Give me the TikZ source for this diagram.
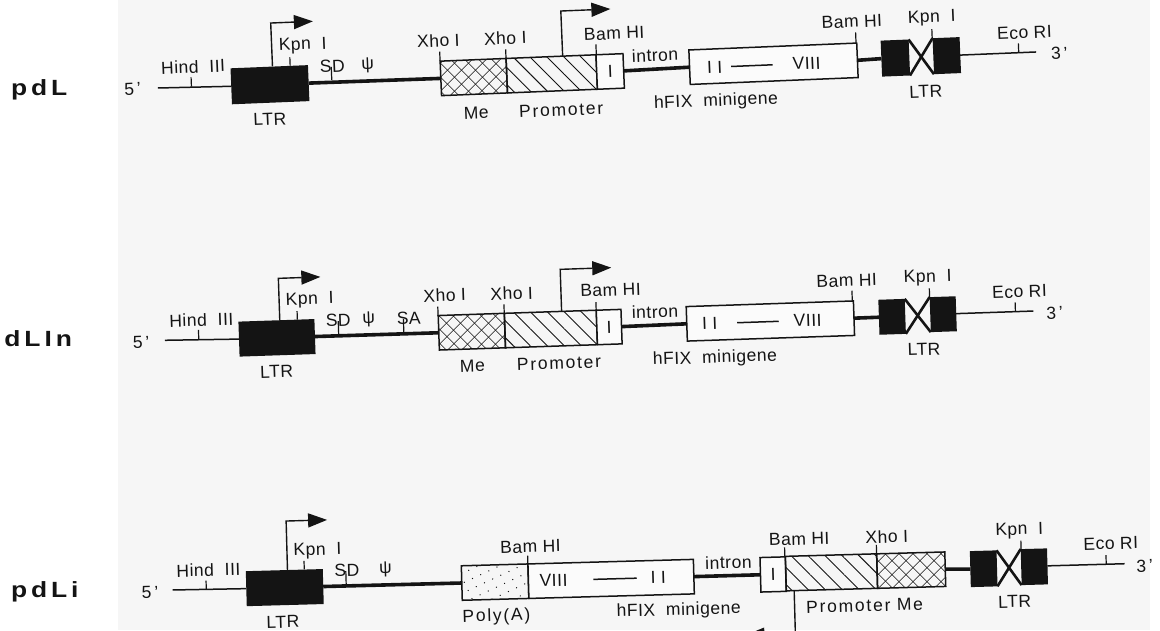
\documentclass[tikz,border=0pt]{standalone}
\usepackage{fontspec}
\setmainfont[LetterSpace=3]{Liberation Sans}
\newfontfamily\namefont[LetterSpace=15]{Liberation Sans}
\newfontfamily\widefont[LetterSpace=10]{Liberation Sans}
\usepackage{xcolor}
\usepackage{tikz}
\usetikzlibrary{arrows.meta,patterns.meta}

\definecolor{paper}{HTML}{F6F6F6}
\definecolor{ink}{HTML}{141414}

\tikzset{
  every node/.style={font=\fontsize{17.5}{20}\selectfont, text=ink, inner sep=0pt, outer sep=0pt},
  thin line/.style={draw=ink, line width=1.5pt},
  thick line/.style={draw=ink, line width=3.6pt},
  cross line/.style={draw=ink, line width=2.6pt},
  site/.style={draw=ink, line width=1.2pt},
  tss/.style={draw=ink, line width=1.4pt, -{Triangle[length=19pt,width=14pt]}},
  partbox/.style={draw=ink, line width=1.5pt, minimum height=34.5pt},
  plainbox/.style={partbox, fill=white!60!paper},
  mebox/.style={partbox, pattern={Lines[angle=45,distance=10.5pt,line width=.9pt]}, preaction={pattern={Lines[angle=-45,distance=10.5pt,line width=.9pt]}}, pattern color=ink},
  probox/.style={partbox, pattern={Lines[angle=-45,distance=12pt,line width=.9pt]}, pattern color=ink},
  polybox/.style={partbox, pattern={Dots[angle=25,distance=9pt,radius=.7pt]}, pattern color=ink},
  ltrbox/.style={fill=ink, minimum height=36pt},
  rowname/.style={font=\namefont\bfseries\fontsize{22}{24}\selectfont, xscale=1.2},
  widelabel/.style={font=\widefont\fontsize{17.5}{20}\selectfont},
}
\newcommand{\sitetick}[3]{\coordinate (st) at (#1,#2); \coordinate (sb) at (#1,#3); \draw[site] (st) -- (sb);}

\begin{document}
\begin{tikzpicture}[x=1pt,y=-1pt]
\useasboundingbox (0,0) rectangle (1160,630);
\clip (0,0) rectangle (1160,630);
\fill[white] (0,0) rectangle (1160,630);
\fill[paper] (118,0) rectangle (1150,630);

\node[rowname, anchor=west] (nameL) at (11,90) {pdL};
\node[rowname, anchor=east] (nameLn) at (72,341) {pdLIn};
\node[rowname, anchor=west] (nameLi) at (11,592) {pdLi};

\begin{scope}[rotate around={2.35:(158,88)}, transform shape]
\coordinate (startL) at (158,88);
\coordinate (endL) at (1037,88);
\node (fiveL) at (132.6,88) {5\,'};
\node (threeL) at (1060,90.3) {3\,'};
\node[ltrbox, minimum width=77.5pt] (ltrL) at (270,89.3) {};
\node[mebox, minimum width=66pt] (meL) at (474,90) {};
\node[probox, minimum width=90pt] (proL) at (552,90) {};
\node[plainbox, minimum width=27pt] (exL) at (610.5,90) {I};
\node[plainbox, minimum width=168pt] (fixL) at (774,89) {};
\node[ltrbox, minimum width=28pt] (ltrLa) at (896,88.3) {};
\node[ltrbox, minimum width=27pt] (ltrLb) at (947.5,88) {};
\draw[thin line] (startL) -- (ltrL.west);
\draw[thick line] (ltrL.east) -- (meL.west);
\draw[thick line] (exL.east) -- (fixL.west);
\draw[thick line] (fixL.east) -- (ltrLa.west);
\draw[cross line] (ltrLa.north east) -- (ltrLb.south west);
\draw[cross line] (ltrLa.south east) -- (ltrLb.north west);
\draw[thin line] (ltrLb.east |- endL) -- (endL);
\foreach \tx/\ta/\tb in {191.5/78.7/88,291/62.8/71,332/74/87,441/63.3/72.5,507/63.6/72.5,597.4/62.3/72.5,857.4/61/71.5,933.7/61/70,1019.6/78.6/87.7}{\sitetick{\tx}{\ta}{\tb}}
\coordinate (tssLa) at (273.3,71);
\coordinate (bendLa) at (273.3,27.7);
\coordinate (tipLa) at (315.5,27.7);
\draw[tss] (tssLa) -- (bendLa) -- (tipLa);
\coordinate (tssLb) at (563.7,72.5);
\coordinate (bendLb) at (563.7,27.6);
\coordinate (tipLb) at (613.3,27.6);
\draw[tss] (tssLb) -- (bendLb) -- (tipLb);
\node (hindL) at (194,68.2) {Hind\ \ III};
\node (kpnLa) at (304.4,51.7) {Kpn\ \ I};
\node (sdL) at (333,73.2) {SD};
\node (psiL) at (368.5,74.3) {ψ};
\node (xhoLa) at (440,52.3) {Xho I};
\node (xhoLb) at (507,52.6) {Xho I};
\node (bamLa) at (616,52.1) {Bam HI};
\node (intronL) at (656,75.4) {intron};
\node (bamLb) at (854,50.2) {Bam HI};
\node (kpnLb) at (934,50) {Kpn\ \ I};
\node (ecoL) at (1026,68.3) {Eco RI};
\node (ltrtextL) at (268.5,123.8) {LTR};
\node (metextL) at (475,125.7) {Me};
\node[widelabel] (protextL) at (560,126.5) {Promoter};
\node (fixtextL) at (715,124.5) {hFIX\ \ minigene};
\node (ltrtextLb) at (925,123) {LTR};
\node (iiL) at (715,90) {I I};
\node (viiiL) at (807,90) {VIII};
\draw[thin line, shorten <=9pt, shorten >=20pt] (iiL) -- (viiiL);
\end{scope}

\begin{scope}[rotate around={1.93:(165,340.3)}, transform shape]
\coordinate (startLn) at (165,340.3);
\coordinate (endLn) at (1034,340.3);
\node (fiveLn) at (141,341.9) {5\,'};
\node (threeLn) at (1055,342.7) {3\,'};
\node[ltrbox, minimum width=76pt, minimum height=35pt] (ltrLn) at (277,341.6) {};
\node[mebox, minimum width=66.2pt] (meLn) at (472,342) {};
\node[probox, minimum width=92pt] (proLn) at (551,342) {};
\node[plainbox, minimum width=24.7pt] (exLn) at (609.4,342) {I};
\node[plainbox, minimum width=167.3pt] (fixLn) at (770.7,341.4) {};
\node[ltrbox, minimum width=26.4pt, minimum height=35pt] (ltrLna) at (892.5,341.3) {};
\node[ltrbox, minimum width=26pt, minimum height=35pt] (ltrLnb) at (943.7,340.4) {};
\draw[thin line] (startLn) -- (ltrLn.west);
\draw[thick line] (ltrLn.east) -- (meLn.west);
\draw[thick line] (exLn.east) -- (fixLn.west);
\draw[thick line] (fixLn.east) -- (ltrLna.west);
\draw[cross line] (ltrLna.north east) -- (ltrLnb.south west);
\draw[cross line] (ltrLna.south east) -- (ltrLnb.north west);
\draw[thin line] (ltrLnb.east |- endLn) -- (endLn);
\foreach \tx/\ta/\tb in {198.8/331.1/340.6,298/315.5/324,338.8/327/341,404/327/341,438.8/315.9/325,505/315.8/325,597/316.7/325,853.3/313.9/324,930.7/314.1/323,1016/331/340.3}{\sitetick{\tx}{\ta}{\tb}}
\coordinate (tssLna) at (280.4,324);
\coordinate (bendLna) at (280.4,282.2);
\coordinate (tipLna) at (322.4,282.2);
\draw[tss] (tssLna) -- (bendLna) -- (tipLna);
\coordinate (tssLnb) at (562.4,325);
\coordinate (bendLnb) at (562.4,282.7);
\coordinate (tipLnb) at (613.5,282.7);
\draw[tss] (tssLnb) -- (bendLnb) -- (tipLnb);
\node (hindLn) at (202,321.2) {Hind\ \ III};
\node (kpnLna) at (311,304.9) {Kpn\ \ I};
\node (sdLn) at (338.8,325.9) {SD};
\node (psiLn) at (369.4,326.2) {ψ};
\node (saLn) at (409.4,326.5) {SA};
\node (xhoLna) at (446,304.5) {Xho I};
\node (xhoLnb) at (513,305) {Xho I};
\node (bamLna) at (612,305) {Bam HI};
\node (intronLn) at (655.7,328.2) {intron};
\node (bamLnb) at (848.3,303.7) {Bam HI};
\node (kpnLnb) at (929.3,303.5) {Kpn\ \ I};
\node (ecoLn) at (1020.7,320.5) {Eco RI};
\node (ltrtextLn) at (275.5,375.4) {LTR};
\node (metextLn) at (471.4,376.3) {Me};
\node[widelabel] (protextLn) at (558,376.5) {Promoter};
\node (fixtextLn) at (714,376.8) {hFIX\ \ minigene};
\node (ltrtextLnb) at (923.3,374.8) {LTR};
\node (iiLn) at (710,342) {I I};
\node (viiiLn) at (808,342) {VIII};
\draw[thin line, shorten <=20pt, shorten >=15pt] (iiLn) -- (viiiLn);
\end{scope}

\begin{scope}[rotate around={1.58:(172.6,590)}, transform shape]
\coordinate (startLi) at (172.6,590);
\coordinate (endLi) at (1125,590);
\node (fiveLi) at (150,591.7) {5\,'};
\node (threeLi) at (1145,592.6) {3\,'};
\node[ltrbox, minimum width=77pt, minimum height=35pt] (ltrLi) at (284.8,590.7) {};
\node[polybox, minimum width=66.6pt] (polyLi) at (495.2,591) {};
\node[plainbox, minimum width=165.5pt] (fixLi) at (611.3,591) {};
\node[plainbox, minimum width=25.4pt] (exLi) at (773.4,591) {I};
\node[probox, minimum width=91.4pt] (proLi) at (831.7,590.5) {};
\node[mebox, minimum width=68.2pt] (meLi) at (911.5,590.5) {};
\node[ltrbox, minimum width=26.7pt] (ltrLia) at (984,591.1) {};
\node[ltrbox, minimum width=26.3pt] (ltrLib) at (1034.7,590.5) {};
\draw[thin line] (startLi) -- (ltrLi.west);
\draw[thick line] (ltrLi.east) -- (polyLi.west);
\draw[thick line] (fixLi.east) -- (exLi.west);
\draw[thick line] (meLi.east) -- (ltrLia.west);
\draw[cross line] (ltrLia.north east) -- (ltrLib.south west);
\draw[cross line] (ltrLia.south east) -- (ltrLib.north west);
\draw[thin line] (ltrLib.east |- endLi) -- (endLi);
\foreach \tx/\ta/\tb in {206.3/581.6/590,304.8/564.6/573,346.3/576/590,528.5/565.5/574,785.6/564.2/573,877.4/564.4/573,1022/564.1/573,1106.7/580.8/590}{\sitetick{\tx}{\ta}{\tb}}
\coordinate (tssLia) at (288,573);
\coordinate (bendLia) at (288,524.2);
\coordinate (tipLia) at (329,524.2);
\draw[tss] (tssLia) -- (bendLia) -- (tipLia);
\coordinate (tssLib) at (794,607.7);
\coordinate (bendLib) at (794,651);
\coordinate (tipLib) at (744,651);
\draw[tss] (tssLib) -- (bendLib) -- (tipLib);
\node (hindLi) at (209,571) {Hind\ \ III};
\node (kpnLia) at (318.5,555) {Kpn\ \ I};
\node (sdLi) at (347.4,574.8) {SD};
\node (psiLi) at (386,574.9) {ψ};
\node (bamLia) at (531.5,556.6) {Bam HI};
\node (intronLi) at (729,577.7) {intron};
\node (bamLib) at (800.4,556.3) {Bam HI};
\node (xhoLi) at (888,556.4) {Xho I};
\node (kpnLib) at (1020.7,554.1) {Kpn\ \ I};
\node (ecoLi) at (1111.7,569.2) {Eco RI};
\node (ltrtextLi) at (282,625) {LTR};
\node[widelabel] (polytextLi) at (495.6,625.6) {Poly(A)};
\node (fixtextLi) at (678,624.6) {hFIX\ \ minigene};
\node[widelabel] (protextLi) at (864,624.7) {Promoter Me};
\node (ltrtextLib) at (1014,624.9) {LTR};
\node (viiiLi) at (553.7,591) {VIII};
\node (iiLi) at (658.5,591) {I I};
\draw[thin line, shorten <=26pt, shorten >=14pt] (viiiLi) -- (iiLi);
\end{scope}
\end{tikzpicture}
\end{document}
